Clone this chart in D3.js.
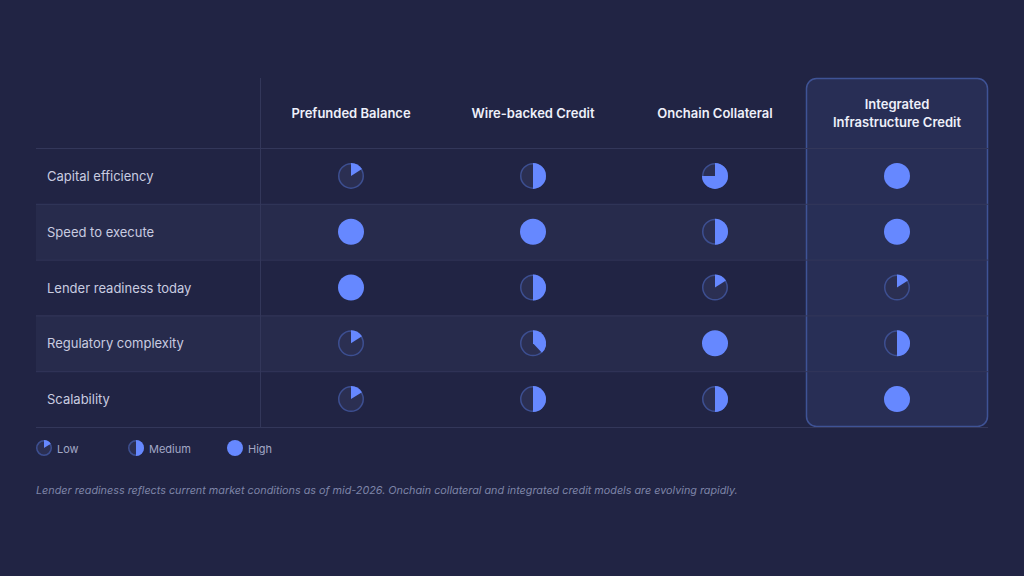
<!DOCTYPE html>
<html>
<head>
<meta charset="utf-8">
<script src="https://cdn.jsdelivr.net/npm/d3@7"></script>
<style>
  html, body { margin: 0; padding: 0; background: #212444; }
  svg { display: block; font-family: Inter, "Noto Sans", sans-serif; }
</style>
</head>
<body>
<svg id="chart" width="1024" height="576"></svg>
<script>
const columns = [
  ["Prefunded Balance"],
  ["Wire-backed Credit"],
  ["Onchain Collateral"],
  ["Integrated", "Infrastructure Credit"]
];
const rows = [
  "Capital efficiency",
  "Speed to execute",
  "Lender readiness today",
  "Regulatory complexity",
  "Scalability"
];
// share of each pie that is filled, row by row
const scores = [
  [0.16, 0.5, 0.75, 1],
  [1, 1, 0.5, 1],
  [1, 0.5, 0.16, 0.16],
  [0.16, 0.38, 1, 0.5],
  [0.16, 0.5, 0.5, 1]
];
const legendItems = [
  { label: "Low", value: 0.16 },
  { label: "Medium", value: 0.5 },
  { label: "High", value: 1 }
];
const footnote = "Lender readiness reflects current market conditions as of mid-2026. Onchain collateral and integrated credit models are evolving rapidly.";

const blue = "#6688ff";
const emptyFill = "#2b2f52";
const ringColor = "#3d4f91";
const lineColor = "#33375a";

const svg = d3.select("#chart");

const tableLeft = 36;
const labelRight = 260;
const tableRight = 988;
const headerTop = 78;
const headerBottom = 148;
const tableBottom = 427;

const xScale = d3.scaleBand()
  .domain(d3.range(columns.length))
  .range([labelRight, tableRight]);
const yScale = d3.scaleBand()
  .domain(rows)
  .range([headerBottom, tableBottom]);

// striped rows
svg.append("g")
  .selectAll("rect")
  .data(rows.filter((d, i) => i % 2 === 1))
  .join("rect")
  .attr("x", tableLeft)
  .attr("y", (d) => yScale(d))
  .attr("width", tableRight - tableLeft)
  .attr("height", yScale.bandwidth())
  .attr("fill", "#272b4c");

// highlighted last column
const hiX = xScale(columns.length - 1);
svg.append("rect")
  .attr("x", hiX + 0.5)
  .attr("y", headerTop + 0.5)
  .attr("width", xScale.bandwidth() - 1)
  .attr("height", tableBottom - headerTop - 1)
  .attr("rx", 10)
  .attr("fill", "#293058")
  .attr("fill-opacity", 0.85)
  .attr("stroke", "#3f5396")
  .attr("stroke-width", 1.5);

// grid lines
svg.append("g")
  .selectAll("line")
  .data([headerBottom, ...rows.map((d) => yScale(d) + yScale.bandwidth())])
  .join("line")
  .attr("x1", tableLeft)
  .attr("x2", tableRight)
  .attr("y1", (d) => d + 0.5)
  .attr("y2", (d) => d + 0.5)
  .attr("stroke", lineColor)
  .attr("stroke-width", 1);

svg.append("line")
  .attr("x1", labelRight + 0.5)
  .attr("x2", labelRight + 0.5)
  .attr("y1", headerTop)
  .attr("y2", tableBottom)
  .attr("stroke", lineColor);

// column headers
const headerMid = (headerTop + headerBottom) / 2;
columns.forEach((lines, i) => {
  const t = svg.append("text")
    .attr("text-anchor", "middle")
    .style("font-size", "13px")
    .style("font-weight", 600)
    .style("fill", "#eef0fa");
  lines.forEach((line, j) => {
    t.append("tspan")
      .attr("x", xScale(i) + xScale.bandwidth() / 2)
      .attr("y", headerMid + 4.5 + (j - (lines.length - 1) / 2) * 18)
      .text(line);
  });
});

// row labels
svg.append("g")
  .selectAll("text")
  .data(rows)
  .join("text")
  .attr("x", 47)
  .attr("y", (d) => yScale(d) + yScale.bandwidth() / 2 + 5)
  .style("font-size", "13px")
  .style("fill", "#c9cce0")
  .text((d) => d);

const drawPie = (g, value, r) => {
  const arc = d3.arc().innerRadius(0).outerRadius(r);
  if (value >= 1) {
    g.append("circle").attr("r", r).attr("fill", blue);
    return;
  }
  g.append("circle")
    .attr("r", r - 0.75)
    .attr("fill", emptyFill)
    .attr("stroke", ringColor)
    .attr("stroke-width", 1.5);
  g.append("path")
    .attr("d", arc({ startAngle: 0, endAngle: value * 2 * Math.PI }))
    .attr("fill", blue);
};

// harvey balls
rows.forEach((row, ri) => {
  scores[ri].forEach((v, ci) => {
    const g = svg.append("g")
      .attr("transform", `translate(${xScale(ci) + xScale.bandwidth() / 2}, ${yScale(row) + yScale.bandwidth() / 2})`);
    drawPie(g, v, 13);
  });
});

// legend
const legendX = [44, 136, 235];
legendItems.forEach((item, i) => {
  const g = svg.append("g").attr("transform", `translate(${legendX[i]}, 448)`);
  drawPie(g, item.value, 8);
  g.append("text")
    .attr("x", 13)
    .attr("y", 4.5)
    .style("font-size", "11px")
    .style("fill", "#a3a8c6")
    .text(item.label);
});

svg.append("text")
  .attr("x", 36)
  .attr("y", 494)
  .style("font-size", "10.8px")
  .style("font-style", "italic")
  .style("fill", "#7e84a8")
  .text(footnote);
</script>
</body>
</html>
